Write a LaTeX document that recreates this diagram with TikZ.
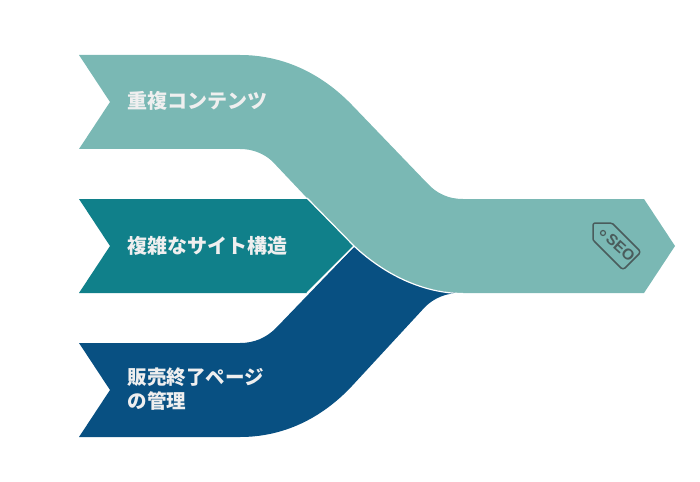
\documentclass[tikz,border=0pt]{standalone}
\usepackage{fontspec}
\newfontfamily\jpfont{Noto Sans CJK JP}
\setsansfont{Liberation Sans}
\definecolor{lightband}{HTML}{7AB8B4}
\definecolor{midband}{HTML}{10808A}
\definecolor{darkband}{HTML}{085082}
\definecolor{tagline}{HTML}{4A5C5C}
\definecolor{labeltext}{HTML}{EFEFEF}
\tikzset{
  bandlabel/.style={anchor=west,align=left,text=labeltext,font=\jpfont\bfseries\fontsize{20}{24}\selectfont,inner sep=0pt},
  tagstroke/.style={draw=tagline,line width=1.5pt,line join=round},
  seam/.style={draw=white,line width=1.2pt}
}
\begin{document}
\begin{tikzpicture}[x=1pt,y=-1pt]
   \useasboundingbox (0,0) rectangle (700,481);
   % lower band
   \fill[darkband] (79,343) -- (240,343) .. controls (254,343) and (266,338) .. (276,328) -- (354,247) -- (460,293)
      .. controls (446,293) and (434,298) .. (425,307) -- (352,386) .. controls (322,418) and (284,437) .. (240,437)
      -- (79,437) -- (110,390) -- cycle;
   % middle band
   \fill[midband] (79,199) -- (307,199) -- (354,246) -- (307,293) -- (79,293) -- (110,246) -- cycle;
   \draw[seam] (354,246) -- (307,293);
   % upper band
   \fill[lightband] (79,55) -- (240,55) .. controls (284,55) and (322,74) .. (352,105) -- (427,183)
      .. controls (437,194) and (449,199) .. (463,199) -- (644,199) -- (675,246) -- (644,293) -- (463,293)
      .. controls (425,293) and (386,276) .. (354,246) -- (307,198) -- (272,161) .. controls (263,153) and (252,149) .. (240,149)
      -- (79,149) -- (110,102) -- cycle;
   \draw[seam] (463,293.5) .. controls (425,293.5) and (386,276) .. (354,246) -- (307,198);
   % labels
   \node[bandlabel] (dup) at (127.5,101) {重複コンテンツ};
   \node[bandlabel] (site) at (127.5,246) {複雑なサイト構造};
   \node[bandlabel,font=\jpfont\bfseries\fontsize{19.5}{24}\selectfont] (sold) at (127.5,389) {販売終了ページ\\の管理};
   % tag
   \draw[tagstroke] (595,223) -- (610,223) .. controls (611,223) and (612,223) .. (613,224) -- (639,250)
      .. controls (640,251) and (640,253) .. (639,254) -- (625,268) .. controls (624,269) and (622,269) .. (621,268)
      -- (595,242) .. controls (594,241) and (593,240) .. (593,239) -- (593,225) .. controls (593,224) and (594,223) .. (595,223) -- cycle;
   \draw[tagstroke,line width=1.2pt] (603,233) circle (2.5);
   \node[rotate=-42,text=tagline,font=\sffamily\bfseries\fontsize{15.5}{15.5}\selectfont,inner sep=0pt] (seo) at (620.5,247.5) {SEO};
\end{tikzpicture}
\end{document}
